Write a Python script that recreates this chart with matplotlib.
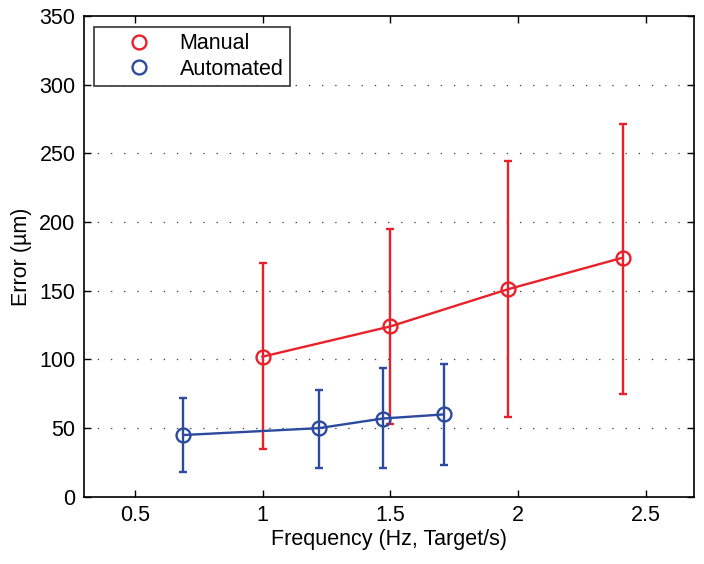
import matplotlib
matplotlib.use("Agg")
import matplotlib.pyplot as plt
from matplotlib.lines import Line2D
from matplotlib.ticker import FuncFormatter

plt.rcParams['font.family'] = ['Liberation Sans', 'DejaVu Sans']
plt.rcParams['lines.scale_dashes'] = False

# Data
manual_x = [1.0, 1.5, 1.96, 2.41]
manual_y = [102, 124, 151, 174]
manual_lo = [35, 53, 58, 75]
manual_hi = [170, 195, 244, 271]

auto_x = [0.69, 1.22, 1.47, 1.71]
auto_y = [45, 50, 57, 60]
auto_lo = [18, 21, 21, 23]
auto_hi = [72, 78, 94, 97]

x_ticks = [0.5, 1, 1.5, 2, 2.5]
y_ticks = [0, 50, 100, 150, 200, 250, 300, 350]

red = '#e8212b'
blue = '#2c4a9e'
FS = 15.5

fig = plt.figure(figsize=(7.04, 5.64), dpi=100)
ax = fig.add_axes([0.119, 0.119, 0.867, 0.853])

def draw(x, y, lo, hi, c):
    yerr = [[yy - l for yy, l in zip(y, lo)], [h - yy for yy, h in zip(y, hi)]]
    ax.errorbar(x, y, yerr=yerr, color=c, lw=1.7, elinewidth=1.7, capsize=2.6,
                capthick=1.7, marker='o', markersize=10, markerfacecolor='none',
                markeredgecolor=c, markeredgewidth=1.7, zorder=3)

draw(manual_x, manual_y, manual_lo, manual_hi, red)
draw(auto_x, auto_y, auto_lo, auto_hi, blue)

ax.set_xlim(0.3, 2.69)
ax.set_ylim(0, 350)
ax.set_xticks(x_ticks)
ax.set_yticks(y_ticks)
ax.xaxis.set_major_formatter(FuncFormatter(lambda v, p: ('%g' % v)))
ax.tick_params(direction='in', length=5, width=1, top=True, right=True,
               labelsize=FS, pad=6, colors='black')
for s in ax.spines.values():
    s.set_linewidth(1.2)
for yv in y_ticks[1:-1]:
    ax.axhline(yv, color='#444444', lw=0.9, linestyle=(0, (1, 8.5)), zorder=1)

ax.set_xlabel('Frequency (Hz, Target/s)', fontsize=FS, labelpad=2)
ax.set_ylabel('Error (µm)', fontsize=FS, labelpad=5)

handles = [Line2D([], [], ls='none', marker='o', markersize=10, markerfacecolor='none',
                  markeredgecolor=red, markeredgewidth=1.7),
           Line2D([], [], ls='none', marker='o', markersize=10, markerfacecolor='none',
                  markeredgecolor=blue, markeredgewidth=1.7)]
leg = ax.legend(handles, ['Manual', 'Automated'], loc='upper left',
                bbox_to_anchor=(0.016, 0.977), fontsize=FS, frameon=True,
                fancybox=False, edgecolor='black', handletextpad=0.1,
                borderpad=0.3, labelspacing=0.2, handlelength=3.6,
                borderaxespad=0)
leg.get_frame().set_linewidth(1.2)

fig.savefig('out.png', dpi=100)
